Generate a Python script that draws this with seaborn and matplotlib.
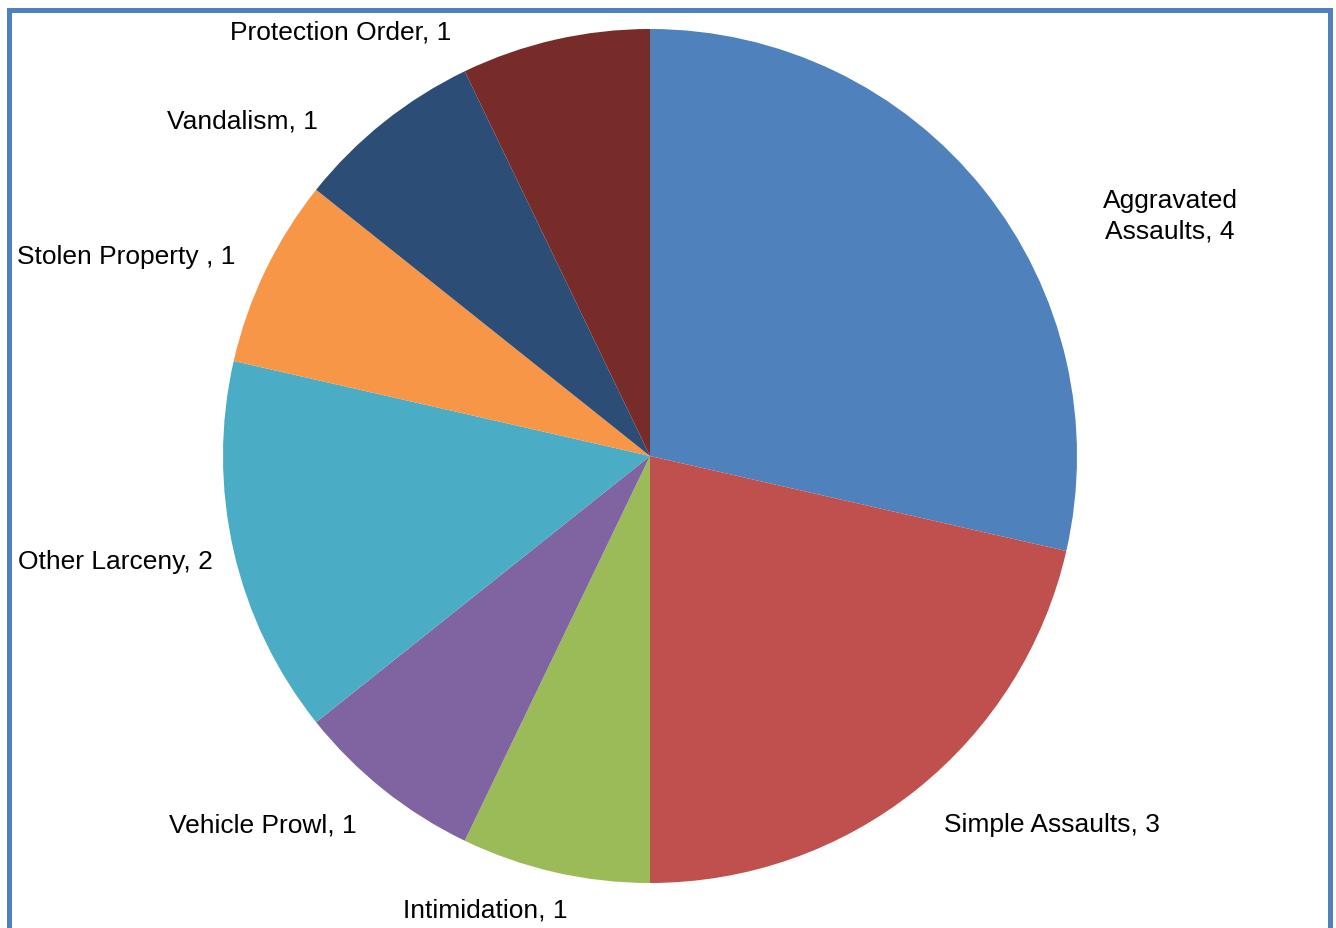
import seaborn as sns
import matplotlib.pyplot as plt
from matplotlib.patches import Rectangle

sns.set_style(style='white')
plt.rcParams['font.family'] = ['Liberation Sans', 'DejaVu Sans']

categories = ['Aggravated\nAssaults', 'Simple Assaults', 'Intimidation', 'Vehicle Prowl',
              'Other Larceny', 'Stolen Property ', 'Vandalism', 'Protection Order']
counts = [4, 3, 1, 1, 2, 1, 1, 1]
colors = ['#4F81BD', '#C0504D', '#9BBB59', '#8064A2', '#4BACC6', '#F79646', '#2C4D75', '#772C2A']

# label spots (data units, radius = 1), excel-ish best fit
label_pos = [(1.218, 0.564), (0.941, -0.862), (-0.386, -1.063), (-0.906, -0.862),
             (-1.253, -0.246), (-1.227, 0.468), (-0.955, 0.785), (-0.724, 0.995)]

fig = plt.figure(figsize=(13.36, 9.29), dpi=100)
ax = fig.add_axes([0, 0, 1, 1])
labels = ['%s, %d' % (c, v) for c, v in zip(categories, counts)]
wedges, texts = ax.pie(counts, labels=labels, colors=sns.color_palette(colors),
                       startangle=90, counterclock=False,
                       wedgeprops=dict(linewidth=0))
for t, p in zip(texts, label_pos):
    t.set_position(p)
    t.set_ha('center')
    t.set_va('center')
    t.set_fontsize(19)
    t.set_color('black')
    t.set_multialignment('center')
    t.set_linespacing(1.32)

ax.set_aspect('auto')
ax.set_xlim(-650 / 427, 686 / 427)
ax.set_ylim(-472 / 427, 457 / 427)
ax.axis('off')

fig.patches.append(Rectangle((9 / 1336, -0.02), 1321 / 1336, 1.02 - 10.5 / 929,
                             transform=fig.transFigure, fill=False,
                             edgecolor='#4F81BD', linewidth=3.6))
fig.savefig('out.png', dpi=100)
